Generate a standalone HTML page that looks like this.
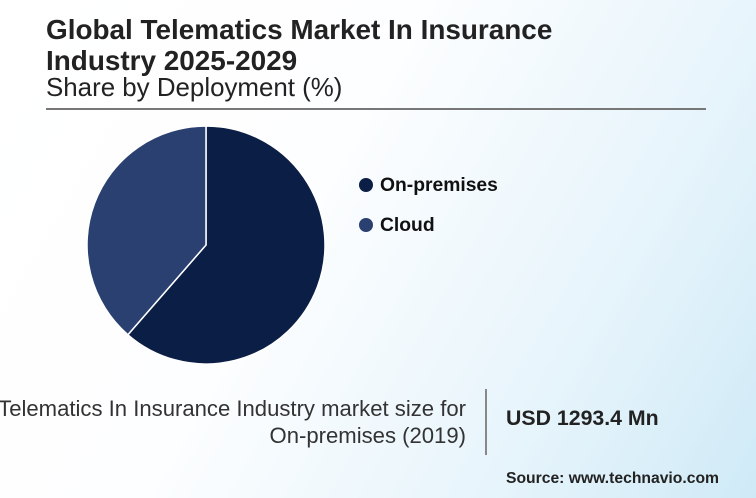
<!DOCTYPE html>
<html><head><meta charset="utf-8"><style>
body{margin:0;width:756px;height:498px;overflow:hidden;font-family:"Liberation Sans",sans-serif;}
#bg{position:absolute;left:0;top:0;width:756px;height:498px;background:linear-gradient(120deg,#ffffff 0%,#fdfeff 40%,#e6f4fb 75%,#cfeaf7 100%);}
.t{position:absolute;color:#222;white-space:nowrap;}
</style></head><body>
<div id="bg"></div>
<div class="t" style="left:46px;top:14px;font-size:27.9px;font-weight:bold;line-height:31px;">Global Telematics Market In Insurance<br>Industry 2025-2029</div>
<div class="t" style="left:46px;top:73px;font-size:25.9px;line-height:30px;">Share by Deployment (%)</div>
<div style="position:absolute;left:46px;top:108px;width:660px;height:2px;background:#777;"></div>
<svg id="pie" width="756" height="498" style="position:absolute;left:0;top:0"></svg>
<div class="t" style="right:290px;top:395px;font-size:22.1px;line-height:27px;text-align:right;color:#333;">Telematics In Insurance Industry market size for<br>On-premises (2019)</div>
<div style="position:absolute;left:485px;top:389px;width:2px;height:66px;background:#888;"></div>
<div class="t" style="left:506px;top:406px;font-size:21.3px;font-weight:bold;">USD 1293.4 Mn</div>
<div class="t" style="left:506px;top:470px;font-size:15.7px;font-weight:bold;">Source: www.technavio.com</div>
<script>
const categories=["On-premises","Cloud"];
const values=[61.4,38.6];
const colors=["#0b1e45","#2a4070"];
const svg=document.getElementById('pie');
const NS="http://www.w3.org/2000/svg";
const cx=206,cy=245,r=119;
const total=values.reduce((a,b)=>a+b,0);
let a0=0;
values.forEach((v,i)=>{
  const a1=a0+v/total*2*Math.PI;
  const x0=cx+r*Math.sin(a0),y0=cy-r*Math.cos(a0),x1=cx+r*Math.sin(a1),y1=cy-r*Math.cos(a1);
  const p=document.createElementNS(NS,'path');
  p.setAttribute('d',`M${cx},${cy}L${x0},${y0}A${r},${r} 0 ${a1-a0>Math.PI?1:0} 1 ${x1},${y1}Z`);
  p.setAttribute('fill',colors[i]);p.setAttribute('stroke','#fff');p.setAttribute('stroke-width','1.5');
  
  
  svg.appendChild(p);
  a0=a1;
  const c=document.createElementNS(NS,'circle');
  c.setAttribute('cx',366);c.setAttribute('cy',185+i*40);c.setAttribute('r',7);c.setAttribute('fill',colors[i]);
  
  
  svg.appendChild(c);
  const t=document.createElementNS(NS,'text');
  t.setAttribute('x',380);t.setAttribute('y',191+i*40);t.setAttribute('font-size','19.3');t.setAttribute('font-weight','bold');
  t.setAttribute('font-family','Liberation Sans, sans-serif');t.setAttribute('fill','#111');
  t.textContent=categories[i];
  
  
  svg.appendChild(t);
});
</script>
</body></html>
